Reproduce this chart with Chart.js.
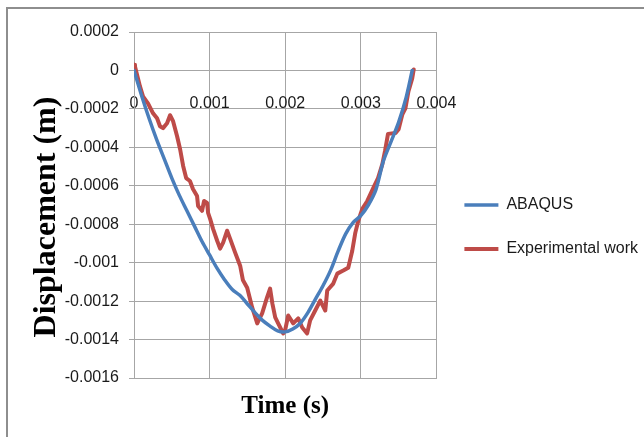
<!DOCTYPE html>
<html>
<head>
<meta charset="utf-8">
<script src="https://cdn.jsdelivr.net/npm/chart.js@4.4.0/dist/chart.umd.min.js"></script>
<style>
  html, body { margin: 0; padding: 0; background: #fff; overflow: hidden; }
  #wrap { position: relative; width: 644px; height: 437px; }
  #frame { position: absolute; left: 6px; top: 7px; width: 700px; height: 500px; border: 2px solid #8e8e8e; }
  canvas { position: absolute; left: 0; top: 0; }
</style>
</head>
<body>
<div id="wrap">
  <div id="frame"></div>
  <canvas id="chart" width="644" height="437"></canvas>
</div>
<script>
// axis ticks
const xTickLabels = ['0', '0.001', '0.002', '0.003', '0.004'];
const yTickLabels = ['-0.0016', '-0.0014', '-0.0012', '-0.001', '-0.0008', '-0.0006', '-0.0004', '-0.0002', '0', '0.0002'];

// ABAQUS simulation (s, m)
const abaqusTime = [0, 0.0001, 0.0002, 0.0003, 0.0004, 0.0005, 0.0006, 0.0007, 0.0008, 0.0009,
  0.001, 0.0011, 0.0012, 0.0013, 0.0014, 0.0015, 0.0016, 0.0017, 0.0018, 0.0019,
  0.002, 0.0021, 0.0022, 0.0023, 0.0024, 0.0025, 0.0026, 0.0027, 0.0028, 0.0029,
  0.003, 0.0031, 0.0032, 0.0033, 0.0034, 0.0035, 0.0036, 0.00368];
const abaqusDisp = [0, -0.00013, -0.00025, -0.00036, -0.00046, -0.00056, -0.00065, -0.00073, -0.00081, -0.00089,
  -0.00096, -0.00103, -0.00109, -0.00114, -0.00117, -0.001215, -0.00126, -0.0013, -0.00133, -0.001355,
  -0.00136, -0.001345, -0.001315, -0.00126, -0.00119, -0.00112, -0.00104, -0.00094, -0.00085, -0.00079,
  -0.000755, -0.0007, -0.00062, -0.00047, -0.00037, -0.00027, -0.00014, 0];

// Experimental work (s, m)
const expTime = [0, 0.000013, 0.000079, 0.000119, 0.000185, 0.000252, 0.000305, 0.000344, 0.000384, 0.000437,
  0.000477, 0.000517, 0.00057, 0.00061, 0.00065, 0.00069, 0.00074, 0.00078, 0.000834, 0.000848,
  0.0009, 0.000927, 0.000967, 0.00098, 0.001007, 0.001046, 0.0011, 0.001139, 0.001179, 0.001232,
  0.001272, 0.001338, 0.001404, 0.00144, 0.001497, 0.001563, 0.00163, 0.001695, 0.00176, 0.0018,
  0.00183, 0.001868, 0.001907, 0.001973, 0.002, 0.00204, 0.002106, 0.002172, 0.002225, 0.00229,
  0.00233, 0.002397, 0.002464, 0.00253, 0.002556, 0.002636, 0.002689, 0.002768, 0.002834, 0.002887,
  0.002927, 0.002967, 0.00302, 0.003086, 0.003166, 0.003228, 0.003285, 0.00332, 0.00336, 0.00346,
  0.0035, 0.00355, 0.00359, 0.00363, 0.00368, 0.0037];
const expDisp = [0.00003, 0.000021, -0.000083, -0.000135, -0.000171, -0.000223, -0.000249, -0.00029, -0.0003, -0.000275,
  -0.000233, -0.000264, -0.000342, -0.00041, -0.000497, -0.00056, -0.000575, -0.000617, -0.000653, -0.000705,
  -0.00073, -0.000679, -0.000689, -0.000741, -0.000772, -0.000824, -0.000886, -0.000927, -0.000896, -0.000834,
  -0.000876, -0.000948, -0.001016, -0.00109, -0.00113, -0.001233, -0.001316, -0.001264, -0.001181, -0.001135,
  -0.001212, -0.001285, -0.001316, -0.001368, -0.00135, -0.001275, -0.001316, -0.00129, -0.001337, -0.001368,
  -0.0013, -0.001249, -0.001197, -0.001249, -0.001145, -0.001109, -0.001057, -0.001041, -0.001026, -0.000938,
  -0.000845, -0.000782, -0.00072, -0.000679, -0.000611, -0.00056, -0.000487, -0.00042, -0.00033, -0.000326,
  -0.000306, -0.000228, -0.000197, -0.000109, -0.000041, 0.000005];

const toPoints = (xs, ys) => xs.map((x, i) => ({ x: x, y: ys[i] }));

const gridColor = '#a6a6a6';
const tickFont = { family: "'Liberation Sans', Arial, sans-serif", size: 16 };
const titleFont = { family: "'Liberation Serif', 'Times New Roman', serif", weight: 'bold' };

new Chart(document.getElementById('chart'), {
  type: 'line',
  data: {
    datasets: [
      {
        label: 'ABAQUS',
        data: toPoints(abaqusTime, abaqusDisp),
        borderColor: '#4a7ebb',
        backgroundColor: '#4a7ebb',
        borderWidth: 3.5,
        borderCapStyle: 'round',
        pointRadius: 0,
        pointStyle: 'line',
        tension: 0.3
      },
      {
        label: 'Experimental work',
        data: toPoints(expTime, expDisp),
        borderColor: '#be4b48',
        backgroundColor: '#be4b48',
        borderWidth: 4,
        borderCapStyle: 'round',
        borderJoinStyle: 'round',
        pointRadius: 0,
        pointStyle: 'line',
        tension: 0
      }
    ]
  },
  options: {
    responsive: false,
    animation: false,
    layout: { padding: { top: 32, left: 0, right: -4, bottom: 15 } },
    scales: {
      x: {
        type: 'linear',
        min: 0,
        max: 0.004,
        ticks: { display: false, stepSize: 0.001 },
        grid: { color: gridColor, drawTicks: false },
        border: { color: gridColor },
        title: { display: true, text: 'Time (s)', color: '#000', font: { ...titleFont, size: 25 }, padding: { top: 14, bottom: 0 } }
      },
      // labels sitting on the zero line, like the Excel original
      x2: {
        type: 'linear',
        axis: 'x',
        position: { y: 0 },
        min: 0,
        max: 0.004,
        grid: { display: false, drawTicks: false },
        border: { display: false },
        ticks: {
          stepSize: 0.001,
          padding: 24,
          color: '#1a1a1a',
          font: tickFont,
          maxRotation: 0,
          callback: (value, index) => xTickLabels[index]
        }
      },
      y: {
        min: -0.0016,
        max: 0.0002,
        afterFit: (scale) => { scale.width = 134; },
        ticks: {
          stepSize: 0.0002,
          padding: 10,
          color: '#1a1a1a',
          font: tickFont,
          callback: (value, index) => yTickLabels[index]
        },
        grid: { color: gridColor, tickLength: 5 },
        border: { color: gridColor },
        title: {
          display: true,
          text: 'Displacement (m)\u00a0\u00a0\u00a0',
          color: '#000',
          font: { ...titleFont, size: 32 },
          padding: { top: 28, bottom: 0 }
        }
      }
    },
    plugins: {
      legend: {
        position: 'right',
        maxWidth: 230,
        labels: {
          usePointStyle: true,
          pointStyle: 'line',
          pointStyleWidth: 34,
          padding: 28,
          color: '#1a1a1a',
          font: tickFont
        }
      },
      tooltip: { enabled: false }
    }
  }
});
</script>
</body>
</html>
